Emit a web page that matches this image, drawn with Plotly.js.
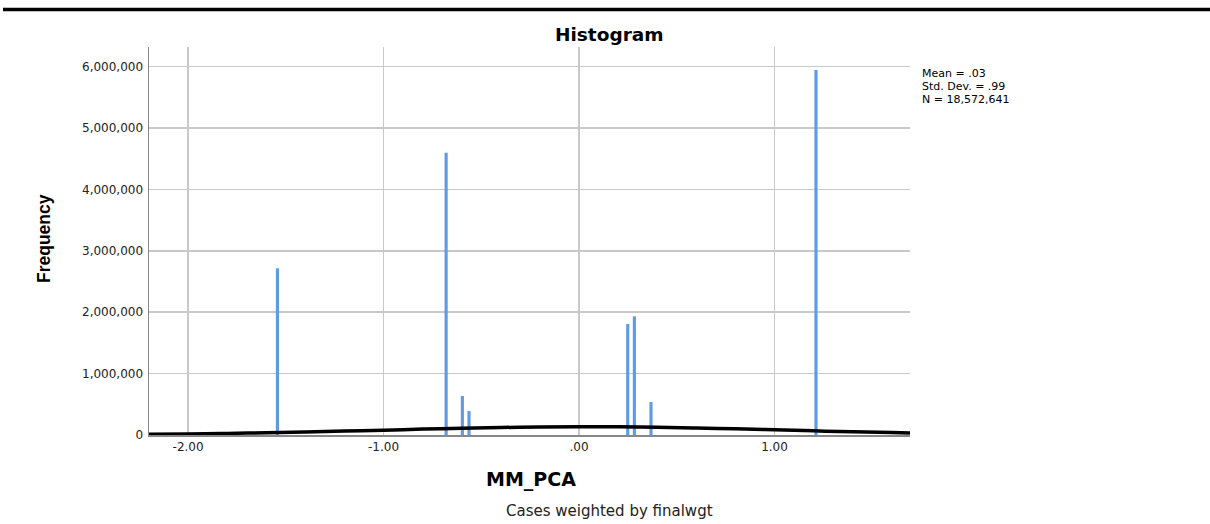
<!DOCTYPE html>
<html><head><meta charset="utf-8">
<script src="https://cdn.plot.ly/plotly-3.0.1.min.js"></script>
<style>html,body{margin:0;padding:0;background:#fff;}#chart{width:1210px;height:524px;}</style>
</head><body><div id="chart"></div>
<script>
// Bar positions (MM_PCA values) and frequencies
const binCenters = [-1.543, -0.680, -0.597, -0.563, 0.249, 0.283, 0.368, 1.212];
const frequencies = [2715000, 4598000, 635000, 390000, 1808000, 1933000, 537000, 5945000];
// Normal curve
const curveX = [-2.2, -2.0, -1.8, -1.6, -1.4, -1.2, -1.0, -0.8, -0.6, -0.4, -0.2, 0.0, 0.2, 0.4, 0.6, 0.8, 1.0, 1.2, 1.4, 1.6, 1.7];
const curveY = [11000, 17000, 26000, 37000, 50000, 65000, 79000, 96000, 110000, 122000, 131000, 135000, 133000, 126000, 114000, 100000, 84000, 68000, 52000, 39000, 33000];
const xTickVals = [-2, -1, 0, 1];
const xTickText = ['-2.00', '-1.00', '.00', '1.00'];
const yTickVals = [0, 1000000, 2000000, 3000000, 4000000, 5000000, 6000000];
const statsLines = ['Mean = .03', 'Std. Dev. = .99', 'N = 18,572,641'];

const dv = '"DejaVu Sans", Verdana, sans-serif';
const lib = '"Liberation Sans", Arial, sans-serif';

// plot area in pixels
const L = 149, R = 910, T = 47, B = 435;
const px = x => (x - L) / (R - L);
const py = y => (B - y) / (B - T);

const traces = [
  {type: 'bar', x: binCenters, y: frequencies, width: 0.016,
   marker: {color: '#5b9be8', line: {width: 0}}, hoverinfo: 'x+y'},
  {type: 'scatter', mode: 'lines', x: curveX, y: curveY,
   line: {color: '#000', width: 3.5, shape: 'spline'}, hoverinfo: 'skip'}
];

const statsY = [74, 87, 100];
const annotations = statsLines.map((t, i) => ({
  xref: 'paper', yref: 'paper', x: px(920), y: py(statsY[i]), xanchor: 'left', yanchor: 'middle',
  showarrow: false, text: t, font: {family: dv, size: 11, color: '#000'}
}));
annotations.push(
  {xref: 'paper', yref: 'paper', x: px(609.5), y: py(34.5), xanchor: 'center', yanchor: 'middle',
   showarrow: false, text: 'Histogram', font: {family: dv, size: 18.5, color: '#000', weight: 'bold'}},
  {xref: 'paper', yref: 'paper', x: px(44), y: py(239), xanchor: 'center', yanchor: 'middle', textangle: -90,
   showarrow: false, text: 'Frequency', font: {family: lib, size: 17.5, color: '#000', weight: 'bold'}},
  {xref: 'paper', yref: 'paper', x: px(531), y: py(479), xanchor: 'center', yanchor: 'middle',
   showarrow: false, text: 'MM_PCA', font: {family: dv, size: 19, color: '#000', weight: 'bold'}},
  {xref: 'paper', yref: 'paper', x: px(609), y: py(511), xanchor: 'center', yanchor: 'middle',
   showarrow: false, text: 'Cases weighted by finalwgt', font: {family: dv, size: 15, color: '#222'}}
);

const layout = {
  width: 1210, height: 524,
  margin: {l: L, r: 1210 - R, t: T, b: 524 - B},
  paper_bgcolor: '#fff', plot_bgcolor: '#fff',
  showlegend: false,
  xaxis: {range: [-2.2, 1.693], tickvals: xTickVals, ticktext: xTickText,
          showgrid: true, gridcolor: '#c8c8c8', gridwidth: 1.5, zeroline: false,
          showline: true, linecolor: '#888', linewidth: 1.5, ticks: '',
          tickfont: {family: dv, size: 12, color: '#222'}},
  yaxis: {range: [0, 6320000], tickvals: yTickVals, tickformat: ',d',
          showgrid: true, gridcolor: '#c8c8c8', gridwidth: 1.5, zeroline: false,
          showline: true, linecolor: '#888', linewidth: 1.5, ticks: '', ticklabelstandoff: 2,
          tickfont: {family: dv, size: 12, color: '#222'}},
  shapes: [
    {type: 'line', xref: 'paper', yref: 'paper', x0: px(3), x1: px(1210),
     y0: py(9.5), y1: py(9.5), line: {color: '#000', width: 3.5}}
  ],
  annotations: annotations
};

Plotly.newPlot('chart', traces, layout, {displayModeBar: false, staticPlot: true});
</script></body></html>
